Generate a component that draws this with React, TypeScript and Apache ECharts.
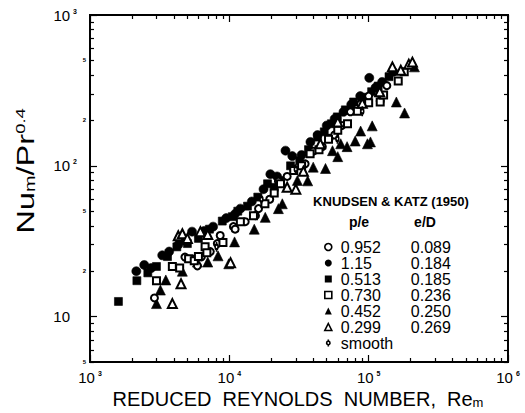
import React, { useEffect, useRef } from "react";
import * as echarts from "echarts";

// ---- axis ticks / labels (decade exponents and in-decade multipliers) ----
const xDecades = [3, 4, 5, 6];
const yDecades = [1, 2, 3];
const minorMultipliers = [2, 3, 4, 5, 6, 7, 8, 9];
const yMinorLabelValues = [5, 20, 50, 200, 500];
const xRange = [1000, 1000000];
const yRange = [5, 1000];

// ---- legend text ----
const peValues = ["0.952", "1.15", "0.513", "0.730", "0.452", "0.299", "smooth"];
const eDValues = ["0.089", "0.184", "0.185", "0.236", "0.250", "0.269", ""];

// ---- data: [Re_m, Nu_m / Pr^0.4] ----
const openCircle: number[][] = [
  [2900, 13.3], [4800, 24.8], [5700, 24.2], [5900, 21.7], [6300, 24.9], [7300, 27], [8200, 30.5],
  [8600, 34.5], [10700, 39.5], [11000, 38], [13000, 42.6], [15400, 46.7], [16200, 52], [19500, 60],
  [22500, 79], [26000, 85], [29000, 95], [35000, 103], [40000, 125], [46500, 134], [52000, 152],
  [57000, 160], [64000, 185], [74000, 228], [87600, 257], [100000, 290], [121000, 269], [135000, 340],
];
const filledCircle: number[][] = [
  [2150, 20], [2450, 22], [2750, 21], [3300, 25.5], [3700, 27], [4300, 30], [4700, 32], [5400, 36.6],
  [6600, 37], [7650, 39.5], [9500, 45], [11000, 48], [12000, 52], [14500, 58], [17600, 70], [19700, 88],
  [22000, 85], [25300, 126], [28300, 116], [33000, 118], [38200, 144], [43000, 160], [50000, 185],
  [57000, 205], [66000, 228], [75000, 255], [87000, 290], [101000, 383], [112000, 330], [125000, 360],
  [150000, 420],
];
const filledSquare: number[][] = [
  [1600, 12.6], [2170, 17.3], [2600, 19.5], [3000, 21.5], [3600, 25], [4200, 29], [5000, 30.5],
  [6000, 33], [7200, 38], [8900, 43], [10500, 46], [11500, 50], [13500, 54], [16000, 62], [18800, 76],
  [21000, 72], [23000, 80], [27500, 100], [32000, 108], [37000, 128], [43000, 155], [48000, 168],
  [54000, 190], [59600, 211], [68000, 235], [78000, 265], [90000, 285], [105000, 310], [117000, 338],
  [140000, 390],
];
const openSquare: number[][] = [
  [3000, 17.3], [3900, 21.5], [4400, 21], [5100, 24.2], [5600, 23.5], [6000, 25], [6700, 29],
  [6900, 26.5], [9000, 31], [12000, 42.6], [14900, 46.7], [18000, 56], [21000, 66], [23300, 76],
  [29000, 93], [33000, 100], [38000, 120], [44000, 128], [51500, 150], [60000, 172], [70500, 190],
  [83000, 230], [100000, 262], [121000, 265], [128000, 295], [163000, 365], [180000, 420],
];
const filledTriangle: number[][] = [
  [3000, 12.2], [3200, 15], [3500, 17.5], [4600, 20], [5900, 23], [7000, 23], [8300, 25.3],
  [9900, 22.4], [10900, 31.3], [15100, 38], [18100, 45.5], [22500, 52], [24000, 56], [30800, 80],
  [36500, 79.5], [40000, 98], [49000, 96], [55000, 126], [60000, 115], [63000, 140], [70000, 134],
  [80000, 146], [87600, 170], [98000, 140], [103000, 144], [106000, 184], [158000, 265],
  [181000, 224], [213000, 453],
];
const openTriangle: number[][] = [
  [3900, 12.2], [4500, 16.5], [4300, 34.4], [4600, 35.4], [5000, 33], [6200, 36.6], [7000, 35],
  [10200, 22.8], [26000, 72], [30000, 70], [34000, 92], [45000, 140], [60000, 195], [90000, 260],
  [120000, 310], [148000, 453], [170000, 430], [194000, 472], [206000, 487],
];
const smoothTube: number[][] = [
  [8100, 29], [17000, 60], [30000, 95], [59600, 151], [90000, 230],
];

const smoothSymbol =
  "path://M5,0L5,2.6M5,7.4L5,10M5,2.6A2.4,2.4,0,1,1,5,7.4A2.4,2.4,0,1,1,5,2.6Z";

const seriesData = [openCircle, filledCircle, filledSquare, openSquare, filledTriangle, openTriangle, smoothTube];
const seriesSymbols = ["circle", "circle", "rect", "rect", "triangle", "triangle", smoothSymbol];
const seriesOpen = [true, false, false, true, false, true, true];
const seriesSizes: any[] = [7, 9, 8, 7, 10, 9, [6, 10]];
const seriesZ = [4, 2, 2, 4, 3, 5, 6];

const FONT = "'Liberation Sans', Arial, Helvetica, sans-serif";
const lg = Math.log10;

const supDigits = (v: number) => String(Math.round(v));

export default function App() {
  const ref = useRef<HTMLDivElement>(null);
  useEffect(() => {
    if (!ref.current) return;
    const chart = echarts.init(ref.current, undefined, { renderer: "svg" });

    const xMajor = xDecades;
    const xMinor: number[] = [];
    xDecades.slice(0, -1).forEach((d) => minorMultipliers.forEach((m) => xMinor.push(d + lg(m))));
    const yMajor = yDecades;
    const yMinor: number[] = [];
    [0, 1, 2].forEach((d) =>
      minorMultipliers.forEach((m) => {
        const v = d + lg(m);
        if (v >= lg(yRange[0]) - 1e-9 && v < 3) yMinor.push(v);
      })
    );
    const yMinorLabels = yMinorLabelValues.map((v) => lg(v));

    const axisLine = { show: true, onZero: false, lineStyle: { color: "#000", width: 1.8 } };
    const tickStyle = { color: "#000", width: 1.2 };
    const xMin = lg(xRange[0]);
    const xMax = lg(xRange[1]);
    const yMin = lg(yRange[0]);
    const yMax = lg(yRange[1]);

    const decadeRich = {
      a: { fontSize: 15, fontFamily: FONT, color: "#000" },
      s: { fontSize: 7, fontWeight: "bold", fontFamily: FONT, color: "#000", verticalAlign: "top", padding: [0, 0, 0, 3] },
      e: { fontSize: 7, width: 7, color: "#000" },
    };

    const mkX = (position: string, ticks: number[], len: number, labels: boolean): any => ({
      type: "value",
      position,
      min: xMin,
      max: xMax,
      axisLine,
      splitLine: { show: false },
      axisTick: { show: true, inside: true, length: len, customValues: ticks, lineStyle: tickStyle },
      axisLabel: labels
        ? {
            show: true,
            customValues: xMajor,
            margin: 8,
            formatter: (v: number) => `{a|10}{s|${supDigits(v)}}`,
            rich: decadeRich,
          }
        : { show: false },
    });

    const mkY = (position: string, ticks: number[], len: number, labelMode: string): any => ({
      type: "value",
      position,
      min: yMin,
      max: yMax,
      axisLine,
      splitLine: { show: false },
      axisTick: { show: true, inside: true, length: len, customValues: ticks, lineStyle: tickStyle },
      axisLabel:
        labelMode === "major"
          ? {
              show: true,
              customValues: yMajor,
              margin: 13,
              formatter: (v: number) =>
                Math.round(v) === 1 ? `{a|10}{e|\u00a0}` : `{a|10}{s|${supDigits(v)}}`,
              rich: decadeRich,
            }
          : labelMode === "minor"
          ? {
              show: true,
              customValues: yMinorLabels,
              margin: 4,
              formatter: (v: number) => String(Math.round(Math.pow(10, v))).charAt(0),
              fontSize: 6,
              fontWeight: "bold",
              fontFamily: FONT,
              color: "#000",
            }
          : { show: false },
    });

    const legendData = peValues.map((name, i) => ({
      name,
      icon: seriesSymbols[i],
      itemStyle: {
        color: seriesOpen[i] ? "#fff" : "#000",
        borderColor: "#000",
        borderWidth: seriesOpen[i] ? 1.6 : 0,
      },
    }));

    const option: any = {
      animation: false,
      backgroundColor: "#fff",
      grid: { left: 90, top: 15, width: 418, height: 347, containLabel: false },
      xAxis: [
        mkX("bottom", xMajor, 7, true),
        mkX("bottom", xMinor, 4, false),
        mkX("top", xMajor, 7, false),
        mkX("top", xMinor, 4, false),
      ],
      yAxis: [
        mkY("left", yMajor, 7, "major"),
        mkY("left", yMinor, 4, "minor"),
        mkY("right", yMajor, 7, "none"),
        mkY("right", yMinor, 4, "none"),
      ],
      legend: {
        show: true,
        orient: "vertical",
        left: 319,
        top: 234,
        itemWidth: 7,
        itemHeight: 7,
        itemGap: 0,
        selectedMode: false,
        data: legendData,
        formatter: (name: string) => {
          const i = peValues.indexOf(name);
          return eDValues[i] ? `{a|${peValues[i]}}{b|${eDValues[i]}}` : `{a|${peValues[i]}}`;
        },
        textStyle: {
          color: "#000",
          fontFamily: FONT,
          fontSize: 16,
          rich: {
            a: { fontSize: 16, fontFamily: FONT, color: "#000", width: 70, lineHeight: 15.7, padding: [0, 0, 0, 4] },
            b: { fontSize: 16, fontFamily: FONT, color: "#000", lineHeight: 15.7 },
          },
        },
      },
      graphic: [
        {
          type: "text",
          x: 391,
          y: 201,
          style: {
            text: "KNUDSEN & KATZ (1950)",
            font: `bold 13px ${FONT}`,
            fill: "#000",
            align: "center",
            verticalAlign: "middle",
          },
        },
        {
          type: "text",
          x: 359,
          y: 222,
          style: { text: "p/e", font: `bold 14px ${FONT}`, fill: "#000", align: "center", verticalAlign: "middle" },
        },
        {
          type: "text",
          x: 425,
          y: 222,
          style: { text: "e/D", font: `bold 14px ${FONT}`, fill: "#000", align: "center", verticalAlign: "middle" },
        },
        {
          type: "text",
          x: 298,
          y: 399,
          style: {
            text: "REDUCED  REYNOLDS  NUMBER,  Re{m|m}",
            font: `20px ${FONT}`,
            fill: "#000",
            align: "center",
            verticalAlign: "middle",
            rich: {
              m: { fontSize: 13, fontFamily: FONT, fill: "#000", verticalAlign: "bottom", padding: [6, 0, 0, 0] },
            },
          },
        },
        {
          type: "text",
          x: 26,
          y: 171,
          rotation: Math.PI / 2,
          scaleX: 1.42,
          style: {
            text: "Nu{m|m}/Pr{p|0.4}",
            font: `23px ${FONT}`,
            fill: "#000",
            align: "center",
            verticalAlign: "middle",
            rich: {
              m: { fontSize: 14, fontFamily: FONT, fill: "#000", verticalAlign: "bottom", padding: [8, 0, 0, 0] },
              p: { fontSize: 13, fontFamily: FONT, fill: "#000", verticalAlign: "top" },
            },
          },
        },
      ],
      series: peValues.map((name, i) => ({
        name,
        type: "scatter",
        xAxisIndex: 0,
        yAxisIndex: 0,
        z: seriesZ[i],
        symbol: seriesSymbols[i],
        symbolSize: seriesSizes[i],
        symbolKeepAspect: true,
        itemStyle: {
          color: seriesOpen[i] ? "#fff" : "#000",
          borderColor: "#000",
          borderWidth: seriesOpen[i] ? 2 : 0.6,
          opacity: 1,
        },
        emphasis: { disabled: true },
        data: seriesData[i].map(([re, nu]) => [lg(re), lg(nu)]),
      })),
    };

    chart.setOption(option);
    return () => chart.dispose();
  }, []);

  return (
    <div
      ref={ref}
      style={{ position: "fixed", left: 0, top: 0, width: 525, height: 413, background: "#fff" }}
    />
  );
}
